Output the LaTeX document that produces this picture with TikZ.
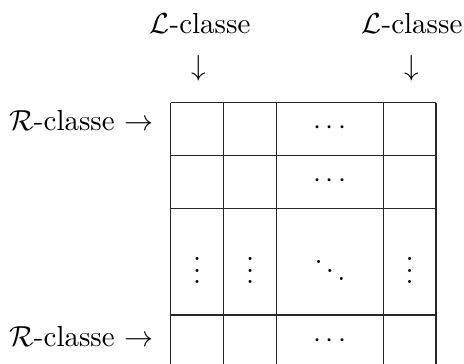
\documentclass[tikz,border=0pt]{standalone}
\usepackage{amssymb}
\begin{document}
\begin{tikzpicture}[x=0.345pt, y=-0.345pt,
  gridline/.style={line width=0.5pt, black!85},
  label/.style={inner sep=0pt, font=\normalsize},
  celldots/.style={inner sep=0pt}]
  % page frame; the last row runs past the lower edge
  \clip (0,0) rectangle (464,363);

  % grid lines
  \foreach \x in {170.7,223.7,276.7,383.3,436}
    \draw[gridline] (\x,102.5) -- (\x,380);
  \foreach \y in {102.5,155.5,208.5,315,368}
    \draw[gridline] (170.7,\y) -- (436,\y);

  % column labels
  \node[label, anchor=base] (L1) at (200,33) {$\mathcal{L}$-classe};
  \node[label, anchor=base] (L2) at (412,33) {$\mathcal{L}$-classe};
  \node[label] (dL1) at (199,68) {$\downarrow$};
  \node[label] (dL2) at (412,68) {$\downarrow$};

  % row labels
  \node[label, anchor=base east] (R1) at (154,130) {$\mathcal{R}$-classe $\rightarrow$};
  \node[label, anchor=base east] (R2) at (154,346.5) {$\mathcal{R}$-classe $\rightarrow$};

  % dots inside the cells
  \node[celldots] (c13) at (330,128) {$\cdots$};
  \node[celldots] (c23) at (330,181) {$\cdots$};
  \node[celldots] (c31) at (197.2,262) {$\vdots$};
  \node[celldots] (c32) at (250.2,262) {$\vdots$};
  \node[celldots] (c33) at (330,262) {$\ddots$};
  \node[celldots] (c34) at (409.7,262) {$\vdots$};
  \node[celldots] (c43) at (330,341.5) {$\cdots$};
\end{tikzpicture}
\end{document}
